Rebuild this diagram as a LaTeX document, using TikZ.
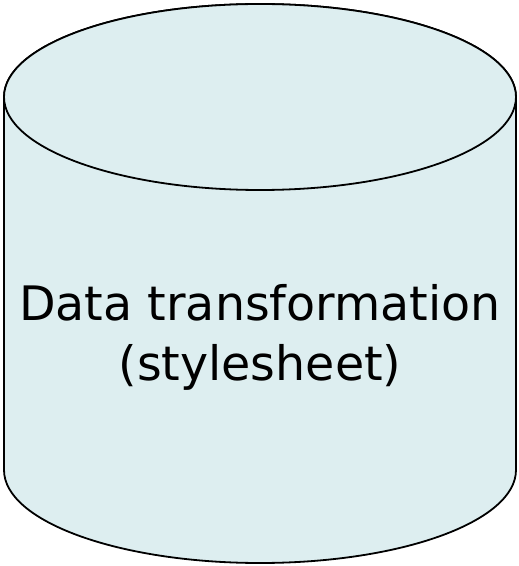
\documentclass[tikz,border=0pt]{standalone}
\usepackage{fontspec}
\setmainfont{DejaVu Sans}
\definecolor{cylfill}{RGB}{221,238,240}
\begin{document}
\begin{tikzpicture}[x=1pt,y=1pt,
  cyl/.style={draw=black,line width=1.8pt,fill=cylfill},
  label/.style={anchor=base,inner sep=0pt,font=\fontsize{47.5}{57}\selectfont}]
  \useasboundingbox (0,0) rectangle (519,566);
  % body of the cylinder
  \path[cyl] (4,469) -- (4,96) arc[start angle=180,end angle=360,x radius=256,y radius=93]
    -- (516,469) arc[start angle=0,end angle=180,x radius=256,y radius=93] -- cycle;
  % top face
  \path[cyl] (260,469) ellipse[x radius=256,y radius=93];
  \node[label] (l1) at (260,245) {Data transformation};
  \node[label] (l2) at (260,185) {(stylesheet)};
\end{tikzpicture}
\end{document}
